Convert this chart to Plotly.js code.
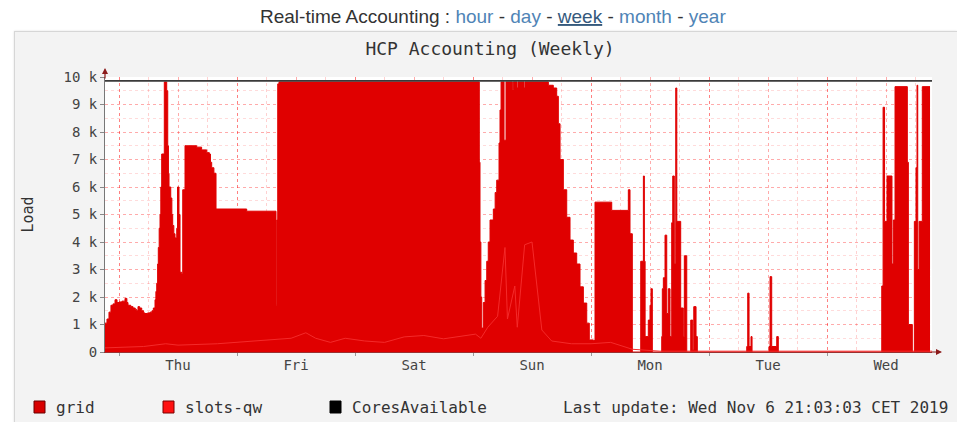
<!DOCTYPE html>
<html>
<head>
<meta charset="utf-8">
<script src="https://cdn.plot.ly/plotly-3.0.1.min.js"></script>
<style>
  html, body { margin: 0; padding: 0; background: #ffffff; width: 957px; height: 422px; overflow: hidden; }
  #box { position: absolute; left: 14px; top: 31px; width: 942px; height: 392px; background: #f3f3f3; border-top: 1px solid #d6d6d6; border-left: 1px solid #d6d6d6; box-shadow: 0 0 2px #e0e0e0; }
  #chart { position: absolute; left: 0; top: 0; width: 957px; height: 422px; }
</style>
</head>
<body>
<div id="box"></div>
<div id="chart"></div>
<script>
// ---- data (x = hours since Thu 00:00, y = load) ----
const gridHours = [-2.85,-2.45,-2.04,-1.64,-1.22,-0.81,-0.4,0,0.6,1.22,1.6,1.83,2.4,2.85,3.3,3.6,3.86,4.2,4.62,5.0,5.29,5.8,6.31,6.7,6.98,7.32,7.5,7.67,7.85,7.99,8.17,8.34,8.5,8.68,9.21,9.70,9.91,10.05,10.17,10.52,10.75,10.92,11.15,11.39,11.74,11.9,12.2,12.41,12.75,12.96,13.42,15.8,16.8,17.84,18.37,18.6,18.85,19.3,19.73,25.97,31.93,32.08,32.28,32.54,73.28,73.42,73.6,73.77,74.09,74.45,74.79,75.1,75.46,76.13,76.5,76.82,77.29,77.49,77.7,78.31,78.71,80.0,80.2,80.95,81.15,82.37,82.57,87.32,88.33,89.02,89.35,89.7,90.37,91.06,91.73,92.4,93.09,93.76,94.44,95.13,95.65,96.47,96.81,99.87,100.21,103.59,103.93,104.4,106.11,106.65,106.85,107.0,107.65,108.0,108.2,108.47,110.38,110.5,110.71,111.05,111.4,111.72,112.07,112.41,112.62,112.94,113.23,113.45,114.24,114.77,114.98,115.47,116.28,116.69,116.9,117.36,117.62,127.67,127.87,128.14,128.54,128.75,132.2,132.41,132.75,133.42,133.77,134.09,155.13,155.4,155.7,156.2,157.21,157.49,157.83,160.33,160.54,161.35,161.76,162.1,162.3,162.45,162.72,163.38,164.95];
const gridLoad = [1050,1200,1450,1700,1750,1900,1800,1820,1850,1950,1800,1700,1650,1600,1550,1500,1650,1600,1500,1420,1400,1420,1450,1500,1600,1900,2200,2500,3200,3800,4500,5000,6000,7200,9820,9500,7500,6500,6000,5600,5000,4600,4300,4150,4500,6000,5000,2900,2850,5900,7500,7450,7350,7250,7200,6900,6700,6500,5200,5120,1700,4800,9750,9820,6900,4000,2000,870,1800,2600,3300,4000,4800,5200,5800,6250,7600,8800,9820,7700,9820,9550,9820,9600,9820,9600,9820,9700,9600,9300,8300,7000,5900,4900,4070,3600,3200,2370,1780,1050,440,420,5450,5450,5150,5900,4300,0,3300,6400,3300,560,1160,1700,2300,0,560,2300,2700,4250,1400,2300,560,4700,6400,3200,9600,4750,1600,560,3500,0,1160,70,1650,560,0,200,2140,200,560,0,200,2740,200,200,560,0,2400,8900,4750,6400,3200,4800,9650,6900,1000,0,4750,6700,9700,3000,4750,9650,9650];

const slotsHours = [-2.85,5,9.5,12,20,32.3,35,38,40,43,46,50,54,58,62,66,70,72.5,73.6,75,77,78.5,79,80.5,81,82.5,84,85,86,88,92,96,100,104.4,110,165.35];
const slotsLoad  = [150,200,300,250,300,450,500,700,500,350,500,400,350,550,600,480,600,650,500,900,1300,3800,1200,2400,900,3900,4000,2500,800,400,300,300,350,100,30,30];

const coresHours = [-2.85,165.35];
const coresLoad  = [9860,9860];

const dayTickHours = [12,36,60,84,108,132,156];
const dayLabels    = ['Thu','Fri','Sat','Sun','Mon','Tue','Wed'];
const midnightHours = [0,24,48,72,96,120,144];
const loadTicks  = [0,1000,2000,3000,4000,5000,6000,7000,8000,9000,10000];
const loadLabels = ['0','1 k','2 k','3 k','4 k','5 k','6 k','7 k','8 k','9 k','10 k'];

// ---- chart ----
const mono = 'DejaVu Sans Mono, monospace';
const xRange = [-2.85, 165.35];

const traces = [
  { type:'scatter', mode:'lines', name:'grid', x:gridHours, y:gridLoad,
    line:{shape:'hv', color:'#e00000', width:1}, fill:'tozeroy', fillcolor:'#e00000', showlegend:false },
  { type:'scatter', mode:'lines', name:'slots-qw', x:slotsHours, y:slotsLoad,
    line:{color:'#f42a2a', width:1}, showlegend:false },
  { type:'scatter', mode:'lines', name:'CoresAvailable', x:coresHours, y:coresLoad, xaxis:'x2',
    line:{color:'#3a3a3a', width:1.6}, showlegend:false }
];

const W = 957, H = 422, L = 105, R = 25, T = 77, B = 70;
const pw = W - L - R, ph = H - T - B;
const px = v => (v - L) / pw;          // page px -> paper x
const py = v => (H - B - v) / ph;      // page px -> paper y

const layout = {
  width: W, height: H,
  margin: {l:L, r:R, t:T, b:B, pad:0},
  paper_bgcolor: 'rgba(0,0,0,0)',
  plot_bgcolor: '#ffffff',
  showlegend: false,
  title: { text:'HCP Accounting (Weekly)', font:{family:mono, size:18, color:'#333'},
           x:490/W, xref:'container', xanchor:'center', y:1-49/H, yref:'container', yanchor:'middle' },
  xaxis: {
    range: xRange, fixedrange:true,
    tickmode:'array', tickvals: dayTickHours, ticktext: dayLabels,
    tickfont:{family:mono, size:14, color:'#444'},
    ticks:'', showgrid:true, gridcolor:'rgba(255,0,0,0.18)', griddash:'dot', gridwidth:1,
    minor:{ tick0:0, dtick:6, showgrid:true, gridcolor:'rgba(255,0,0,0.18)', griddash:'dot', ticks:'' },
    showline:true, linecolor:'#9a3030', linewidth:1, zeroline:false
  },
  xaxis2: {
    range: xRange, overlaying:'x', anchor:'y', fixedrange:true,
    tickmode:'array', tickvals: midnightHours, showticklabels:false,
    ticks:'outside', ticklen:3, tickcolor:'#999',
    showgrid:true, gridcolor:'rgba(255,0,0,0.38)', griddash:'dot', gridwidth:1, zeroline:false, showline:false
  },
  yaxis: {
    range:[0,10000], fixedrange:true,
    tickmode:'array', tickvals: loadTicks, ticktext: loadLabels,
    tickfont:{family:mono, size:14, color:'#444'},
    ticks:'outside', ticklen:4, tickcolor:'#888',
    showgrid:true, gridcolor:'rgba(255,0,0,0.22)', griddash:'dot',
    minor:{ dtick:500, showgrid:true, gridcolor:'rgba(255,0,0,0.14)', griddash:'dot', ticks:'' },
    showline:true, linecolor:'#777', linewidth:1, zeroline:false,
    title:{ text:'Load', font:{family:mono, size:15, color:'#333'}, standoff:26 }
  },
  shapes: [
    {type:'rect', xref:'paper', yref:'paper', x0:px(34), x1:px(45), y0:py(413), y1:py(401), fillcolor:'#d80000', line:{color:'#6a0000', width:1}},
    {type:'rect', xref:'paper', yref:'paper', x0:px(163), x1:px(174), y0:py(413), y1:py(401), fillcolor:'#ff1010', line:{color:'#7a0000', width:1}},
    {type:'rect', xref:'paper', yref:'paper', x0:px(330), x1:px(341), y0:py(413), y1:py(401), fillcolor:'#000000', line:{color:'#000000', width:1}}
  ],
  annotations: [
    {xref:'paper', yref:'paper', x:px(493), y:py(17), xanchor:'center', yanchor:'middle', showarrow:false,
     font:{family:'Liberation Sans, Arial, sans-serif', size:19, color:'#333'},
     text:'Real-time Accounting : <span style="color:#4f84b6">hour</span> - <span style="color:#4f84b6">day</span> - <span style="color:#35597c"><u>week</u></span> - <span style="color:#4f84b6">month</span> - <span style="color:#4f84b6">year</span>'},
    {xref:'paper', yref:'paper', x:px(54), y:py(407), xanchor:'left', yanchor:'middle', showarrow:false,
     font:{family:mono, size:16, color:'#333'}, text:'grid'},
    {xref:'paper', yref:'paper', x:px(183), y:py(407), xanchor:'left', yanchor:'middle', showarrow:false,
     font:{family:mono, size:16, color:'#333'}, text:'slots-qw'},
    {xref:'paper', yref:'paper', x:px(350), y:py(407), xanchor:'left', yanchor:'middle', showarrow:false,
     font:{family:mono, size:16, color:'#333'}, text:'CoresAvailable'},
    {xref:'paper', yref:'paper', x:px(950), y:py(407), xanchor:'right', yanchor:'middle', showarrow:false,
     font:{family:mono, size:16, color:'#333'}, text:'Last update: Wed Nov 6 21:03:03 CET 2019'},
    // axis arrows
    {xref:'paper', yref:'paper', x:0, y:py(68), ax:0, ay:12, showarrow:true, arrowhead:2, arrowsize:1, arrowwidth:1.2, arrowcolor:'#8b1a1a', text:''},
    {xref:'paper', yref:'paper', x:px(942), y:0, ax:-12, ay:0, showarrow:true, arrowhead:2, arrowsize:1, arrowwidth:1.2, arrowcolor:'#8b1a1a', text:''}
  ]
};

Plotly.newPlot('chart', traces, layout, {displayModeBar:false, staticPlot:true});
</script>
</body>
</html>
